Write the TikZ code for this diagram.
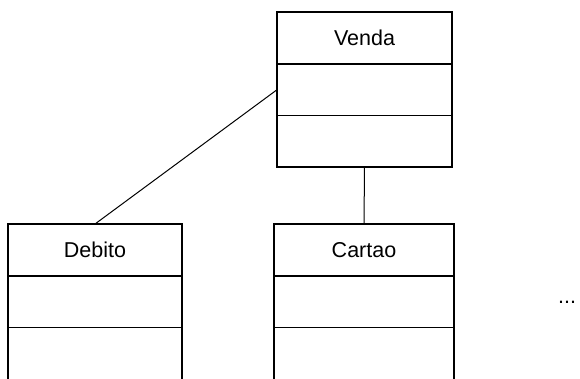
\documentclass[tikz,border=0pt]{standalone}
\usepackage{fontspec}
\setmainfont{Liberation Sans}
\usetikzlibrary{positioning}

\tikzset{
	classname/.style={rectangle,draw,line width=1.2pt,outer sep=0pt,inner sep=0pt,
		minimum width=#1,minimum height=52pt,font=\fontsize{21.5}{25}\selectfont},
	classpart/.style={rectangle,draw,line width=1.2pt,outer sep=0pt,inner sep=0pt,
		minimum width=#1,minimum height=51.5pt},
	assoc/.style={line width=1pt},
}

\begin{document}
\begin{tikzpicture}[x=1pt,y=1pt]
		\clip (0,0) rectangle (580,378);
%		\draw[help lines,step=20] (0,0) grid (580,378);
		\path (364.5,340) coordinate (vendapos);
		\path (364,128) coordinate (cartaopos);
		\path (95,128) coordinate (debitopos);
		\path (567,76) coordinate (morepos);

		% superclass
		\path (vendapos) node(venda) [classname=175pt] {Venda};
		\node(vendaattr) [classpart=175pt,below=0pt of venda] {};
		\node(vendaop) [classpart=175pt,below=0pt of vendaattr] {};

		% subclasses (cut off at the bottom)
		\path (debitopos) node(debito) [classname=174pt] {Debito};
		\node(debitoattr) [classpart=174pt,below=0pt of debito] {};
		\node(debitoop) [classpart=174pt,minimum height=70pt,below=0pt of debitoattr] {};

		\path (cartaopos) node(cartao) [classname=180pt] {Cartao};
		\node(cartaoattr) [classpart=180pt,below=0pt of cartao] {};
		\node(cartaoop) [classpart=180pt,minimum height=70pt,below=0pt of cartaoattr] {};

		\draw[assoc] (vendaop.south) -- (cartao.north);
		\draw[assoc] (vendaattr.west) -- (debito.north);

		\path (morepos) node(more) {\fontsize{21.5}{25}\selectfont ...};
	\end{tikzpicture}
\end{document}
